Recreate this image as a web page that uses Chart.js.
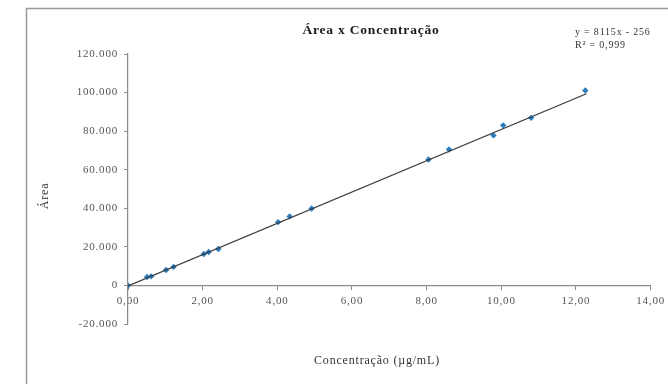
<!DOCTYPE html>
<html>
<head>
<meta charset="utf-8">
<script src="https://cdn.jsdelivr.net/npm/chart.js@4/dist/chart.umd.min.js"></script>
<style>
  html, body { margin: 0; padding: 0; background: #fff; }
  #wrap { width: 668px; height: 384px; position: relative; }
</style>
</head>
<body>
<div id="wrap"><canvas id="grafico"></canvas></div>
<script>
// Valores
const concentracao = [0, 0.51, 0.62, 1.02, 1.22, 2.03, 2.16, 2.42, 4.02, 4.33, 4.92, 8.05, 8.6, 9.79, 10.05, 10.8, 12.25];
const area = [0, 4400, 4700, 8000, 9600, 16300, 17300, 18900, 32800, 35800, 39900, 65300, 70500, 77800, 83000, 86900, 101100];

// linha de tendência (extremos)
const trendX = [0, 12.28];
const trendY = [-256, 99396];

const yTicks = [-20000, 0, 20000, 40000, 60000, 80000, 100000, 120000];
const xTicks = [0, 2, 4, 6, 8, 10, 12, 14];

const titulo = 'Área x Concentração';
const tituloX = 'Concentração (µg/mL)';
const tituloY = 'Área';
const equacao = ['y = 8115x - 256', 'R² = 0,999'];

const serif = '"Liberation Serif", "DejaVu Serif", serif';

const textos = {
  id: 'textos',
  beforeDraw(chart) {
    chart.ctx.letterSpacing = '0.8px';
  },
  afterDraw(chart) {
    const ctx = chart.ctx;
    ctx.save();
    // moldura
    ctx.strokeStyle = '#9a9a9a';
    ctx.lineWidth = 1.5;
    ctx.strokeRect(26.5, 8.5, 700, 400);

    ctx.fillStyle = '#1a1a1a';
    ctx.textBaseline = 'middle';
    ctx.textAlign = 'center';
    ctx.font = 'bold 13.5px ' + serif;
    ctx.fillText(titulo, 371, 31);

    ctx.font = '12px ' + serif;
    ctx.fillStyle = '#333';
    ctx.fillText(tituloX, 377, 361);

    ctx.save();
    ctx.translate(45, 196);
    ctx.rotate(-Math.PI / 2);
    ctx.fillText(tituloY, 0, 0);
    ctx.restore();

    ctx.textAlign = 'left';
    ctx.font = '10px ' + serif;
    ctx.fillText(equacao[0], 575, 32);
    ctx.fillText(equacao[1], 575, 45);
    ctx.restore();
  }
};

const fmtY = v => v === 0 ? '0' : (v < 0 ? '-' : '') + Math.abs(v).toLocaleString('de-DE');
const fmtX = v => v.toFixed(2).replace('.', ',');

new Chart(document.getElementById('grafico'), {
  type: 'scatter',
  data: {
    datasets: [
      {
        label: 'Área',
        data: concentracao.map((c, i) => ({ x: c, y: area[i] })),
        pointStyle: 'rectRot',
        pointRadius: 3.2,
        backgroundColor: '#2a7cc0',
        borderColor: '#2a7cc0',
        borderWidth: 0,
        order: 1
      },
      {
        type: 'line',
        label: 'Tendência',
        data: trendX.map((c, i) => ({ x: c, y: trendY[i] })),
        borderColor: '#3a3a3a',
        borderWidth: 1.3,
        pointRadius: 0,
        fill: false,
        order: 0
      }
    ]
  },
  options: {
    responsive: true,
    maintainAspectRatio: false,
    animation: false,
    layout: { padding: { left: 38, right: 9, top: 54, bottom: 60 } },
    plugins: {
      legend: { display: false },
      tooltip: { enabled: false }
    },
    scales: {
      x: {
        type: 'linear',
        position: { y: 0 },
        min: 0, max: 14,
        afterBuildTicks: s => { s.ticks = xTicks.map(v => ({ value: v })); },
        grid: { drawOnChartArea: false, tickLength: 4, color: '#8a8a8a' },
        border: { color: '#8a8a8a', width: 1.2 },
        ticks: {
          callback: v => fmtX(v),
          color: '#555',
          padding: 5,
          maxRotation: 0,
          font: { family: serif, size: 11 }
        }
      },
      y: {
        type: 'linear',
        position: 'left',
        min: -20000, max: 120000,
        afterBuildTicks: s => { s.ticks = yTicks.map(v => ({ value: v })); },
        afterFit: s => { s.width = 90; },
        grid: { drawOnChartArea: false, tickLength: 4, color: '#8a8a8a' },
        border: { color: '#8a8a8a', width: 1.2 },
        ticks: {
          callback: v => fmtY(v),
          color: '#555',
          padding: 6,
          font: { family: serif, size: 11 }
        }
      }
    }
  },
  plugins: [textos]
});
</script>
</body>
</html>
